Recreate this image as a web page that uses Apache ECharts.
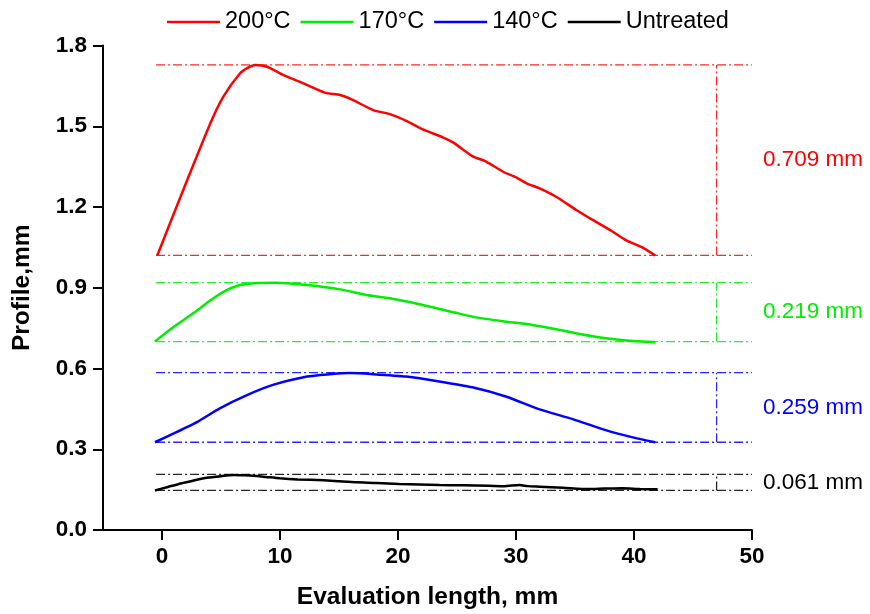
<!DOCTYPE html>
<html>
<head>
<meta charset="utf-8">
<script src="https://cdn.jsdelivr.net/npm/echarts@6/dist/echarts.min.js"></script>
<style>html,body{margin:0;padding:0;background:#fff;}#chart{width:870px;height:614px;}</style>
</head>
<body>
<div id="chart"></div>
<script>
// ---- data ----
const seriesNames = ['200°C', '170°C', '140°C', 'Untreated'];
const red200 = [[-0.4,1.02],[1.8,1.263],[4.1,1.511],[5.2,1.61],[6.6,1.696],[7.3,1.718],[7.9,1.728],[8.9,1.721],[10.3,1.69],[11.7,1.665],[13.8,1.625],[15.1,1.616],[16.2,1.597],[17.9,1.56],[19.3,1.545],[20.7,1.52],[22.1,1.488],[23.8,1.459],[24.7,1.439],[26.3,1.389],[27.5,1.368],[28.9,1.331],[30.0,1.31],[30.9,1.288],[32.0,1.269],[33.4,1.238],[35.1,1.189],[36.5,1.152],[38.2,1.108],[39.3,1.077],[40.7,1.05],[41.8,1.02]];
const green170 = [[-0.6,0.70],[1.0,0.755],[2.7,0.807],[4.0,0.85],[5.2,0.885],[6.6,0.91],[8.0,0.918],[9.7,0.919],[12.3,0.91],[15.1,0.894],[17.3,0.873],[19.3,0.861],[22.1,0.836],[24.9,0.807],[26.6,0.79],[29.2,0.774],[31.4,0.762],[33.4,0.746],[35.4,0.728],[37.6,0.712],[39.6,0.703],[41.8,0.698]];
const blue140 = [[-0.6,0.326],[1.0,0.359],[3.0,0.402],[4.9,0.452],[7.2,0.501],[9.4,0.539],[12.3,0.57],[14.0,0.578],[15.9,0.583],[17.9,0.579],[20.7,0.57],[23.5,0.552],[26.3,0.53],[29.2,0.495],[32.0,0.448],[34.8,0.412],[37.6,0.371],[39.9,0.344],[41.8,0.326]];
const untreated = [[-0.6,0.147],[0.5,0.16],[1.6,0.173],[2.7,0.184],[3.8,0.194],[5.0,0.2],[6.1,0.204],[7.0,0.203],[7.7,0.2015],[8.8,0.197],[10.0,0.192],[11.5,0.188],[13.7,0.1846],[15.0,0.181],[16.5,0.177],[18.2,0.175],[20.1,0.171],[21.8,0.169],[23.5,0.167],[25.5,0.166],[27.7,0.1645],[29.0,0.163],[30.3,0.167],[31.0,0.163],[32.0,0.161],[34.0,0.157],[36.2,0.152],[37.5,0.154],[39.0,0.155],[40.5,0.152],[42.0,0.151]];
const rangeTop = [1.728, 0.919, 0.5845, 0.207];
const rangeBottom = [1.02, 0.70, 0.326, 0.147];
const rangeLabels = ['0.709 mm', '0.219 mm', '0.259 mm', '0.061 mm'];
const refStartX = -0.5;
const refEndX = 50;
const refMarkX = 47;
const xTicks = [0, 10, 20, 30, 40, 50];

// ---- styles ----
const colors = ['#ff0000', '#00ee00', '#0000ff', '#000000'];
const font = '"Liberation Sans", Arial, Helvetica, sans-serif';
const dashDot = [9, 3, 2, 3];
const curves = [red200, green170, blue140, untreated];

const series = [];
curves.forEach((d, i) => {
  series.push({
    name: seriesNames[i], type: 'line', data: d, symbol: 'none', smooth: 0.2,
    lineStyle: { color: colors[i], width: 2.5 }, itemStyle: { color: colors[i] }, z: 5
  });
});
curves.forEach((d, i) => {
  const ls = { color: colors[i], width: 1.3, type: dashDot, opacity: 0.85 };
  series.push({ type: 'line', symbol: 'none', silent: true, lineStyle: ls, data: [[refStartX, rangeTop[i]], [refEndX, rangeTop[i]]], z: 3 });
  series.push({ type: 'line', symbol: 'none', silent: true, lineStyle: ls, data: [[refStartX, rangeBottom[i]], [refEndX, rangeBottom[i]]], z: 3 });
  series.push({ type: 'line', symbol: 'none', silent: true, lineStyle: ls, data: [[refMarkX, rangeBottom[i]], [refMarkX, rangeTop[i]]], z: 3 });
  series.push({
    type: 'scatter', symbolSize: 0, silent: true, clip: false,
    itemStyle: { color: colors[i], opacity: 1 },
    data: [[refEndX, (rangeTop[i] + rangeBottom[i]) / 2]],
    label: { show: true, position: 'right', distance: 11, formatter: rangeLabels[i], color: colors[i], opacity: 1, fontSize: 22.5, fontFamily: font }
  });
});

const chart = echarts.init(document.getElementById('chart'), null, { renderer: 'canvas' });
chart.setOption({
  animation: false,
  backgroundColor: '#fff',
  legend: {
    data: seriesNames.map(n => ({ name: n, icon: 'rect' })),
    left: 162, top: 5, itemWidth: 53, itemHeight: 2.5, itemGap: 10,
    textStyle: { fontSize: 23.5, color: '#000', fontFamily: font }
  },
  grid: { left: 103, right: 118, top: 45.5, bottom: 84, containLabel: false, outerBoundsMode: 'none' },
  xAxis: {
    type: 'value', min: -5, max: 50,
    name: 'Evaluation length, mm', nameLocation: 'middle', nameGap: 55,
    nameTextStyle: { fontSize: 24.5, fontWeight: 'bold', color: '#000', fontFamily: font },
    axisLine: { onZero: false, lineStyle: { color: '#000', width: 2 } },
    axisTick: { show: true, inside: false, length: 10, lineStyle: { color: '#000', width: 2 }, customValues: xTicks },
    axisLabel: { customValues: xTicks, fontSize: 22.5, fontWeight: 'bold', color: '#000', fontFamily: font, margin: 15 },
    splitLine: { show: false }
  },
  yAxis: {
    type: 'value', min: 0, max: 1.8, interval: 0.3,
    name: 'Profile,mm', nameLocation: 'middle', nameGap: 68, nameRotate: 90,
    nameTextStyle: { fontSize: 24.5, fontWeight: 'bold', color: '#000', fontFamily: font },
    axisLine: { show: true, onZero: false, lineStyle: { color: '#000', width: 2 } },
    axisTick: { show: true, inside: false, length: 10, lineStyle: { color: '#000', width: 2 } },
    axisLabel: { fontSize: 22.5, fontWeight: 'bold', color: '#000', fontFamily: font, margin: 16, formatter: v => v.toFixed(1) },
    splitLine: { show: false }
  },
  series: series
});
</script>
</body>
</html>
